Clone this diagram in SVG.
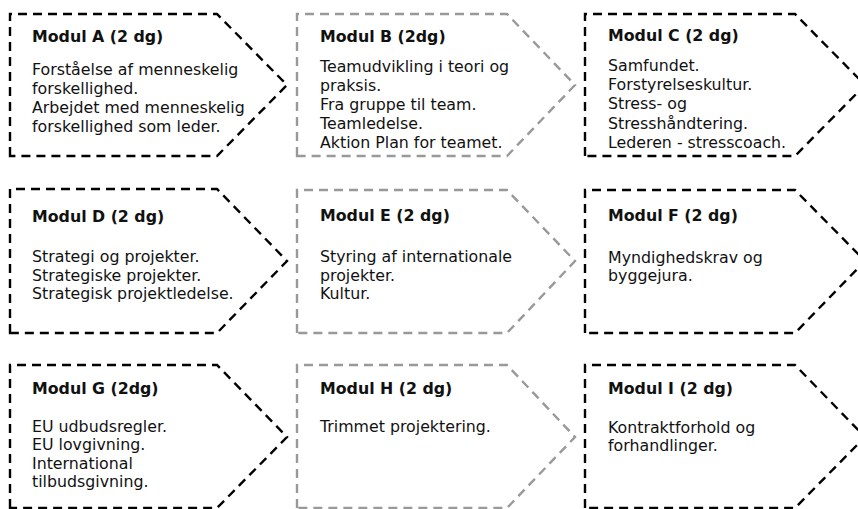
<svg xmlns="http://www.w3.org/2000/svg" width="858" height="509" viewBox="0 0 858 509">
<style>
.box{fill:#fff;stroke-width:2.4;stroke-dasharray:9 6;stroke-linejoin:miter}
.blk{stroke:#000}
.gry{stroke:#999}
text{font-family:"DejaVu Sans",Verdana,sans-serif;font-size:15.8px;fill:#111}
.t{font-weight:bold}
</style>
<rect width="858" height="509" fill="#fff"/>
<g id="connectors"></g>
<g id="modulA">
<path class="box blk" d="M10,156 V14 H217 L287,85 L217,156 Z"/>
<text class="t" x="32" y="42">Modul A (2 dg)</text>
<text x="32" y="74.5">Forståelse af menneskelig<tspan x="32" y="93.5">forskellighed.</tspan><tspan x="32" y="112.5">Arbejdet med menneskelig</tspan><tspan x="32" y="131.5">forskellighed som leder.</tspan></text>
</g>
<g id="modulB">
<path class="box gry" d="M297,156 V14 H507 L575,85 L507,156 Z"/>
<text class="t" x="320" y="41.5">Modul B (2dg)</text>
<text x="320" y="72">Teamudvikling i teori og<tspan x="320" y="91">praksis.</tspan><tspan x="320" y="110">Fra gruppe til team.</tspan><tspan x="320" y="129">Teamledelse.</tspan><tspan x="320" y="148">Aktion Plan for teamet.</tspan></text>
</g>
<g id="modulC">
<path class="box blk" d="M585,156 V14 H795 L865,85 L795,156 Z"/>
<text class="t" x="608" y="41">Modul C (2 dg)</text>
<text x="608" y="71">Samfundet.<tspan x="608" y="90.2">Forstyrelseskultur.</tspan><tspan x="608" y="109.4">Stress- og</tspan><tspan x="608" y="128.6">Stresshåndtering.</tspan><tspan x="608" y="147.8">Lederen - stresscoach.</tspan></text>
</g>
<g id="modulD">
<path class="box blk" d="M10,333 V189 H217 L287,261 L217,333 Z"/>
<text class="t" x="32" y="221.5">Modul D (2 dg)</text>
<text x="32" y="262">Strategi og projekter.<tspan x="32" y="280.5">Strategiske projekter.</tspan><tspan x="32" y="299">Strategisk projektledelse.</tspan></text>
</g>
<g id="modulE">
<path class="box gry" d="M297,333 V190 H507 L575,261 L507,333 Z"/>
<text class="t" x="320" y="221">Modul E (2 dg)</text>
<text x="320" y="262">Styring af internationale<tspan x="320" y="280.5">projekter.</tspan><tspan x="320" y="299">Kultur.</tspan></text>
</g>
<g id="modulF">
<path class="box blk" d="M585,333 V190 H795 L865,261 L795,333 Z"/>
<text class="t" x="608" y="221">Modul F (2 dg)</text>
<text x="608" y="262.5">Myndighedskrav og<tspan x="608" y="281">byggejura.</tspan></text>
</g>
<g id="modulG">
<path class="box blk" d="M10,508 V365 H217 L287,437 L217,508 Z"/>
<text class="t" x="32" y="393.5">Modul G (2dg)</text>
<text x="32" y="431.5">EU udbudsregler.<tspan x="32" y="450">EU lovgivning.</tspan><tspan x="32" y="468.5">International</tspan><tspan x="32" y="487">tilbudsgivning.</tspan></text>
</g>
<g id="modulH">
<path class="box gry" d="M297,508 V365 H507 L575,437 L507,508 Z"/>
<text class="t" x="320" y="393.5">Modul H (2 dg)</text>
<text x="320" y="432">Trimmet projektering.</text>
</g>
<g id="modulI">
<path class="box blk" d="M585,508 V365 H795 L865,437 L795,508 Z"/>
<text class="t" x="608" y="393.5">Modul I (2 dg)</text>
<text x="608" y="432.5">Kontraktforhold og<tspan x="608" y="451">forhandlinger.</tspan></text>
</g>
</svg>
